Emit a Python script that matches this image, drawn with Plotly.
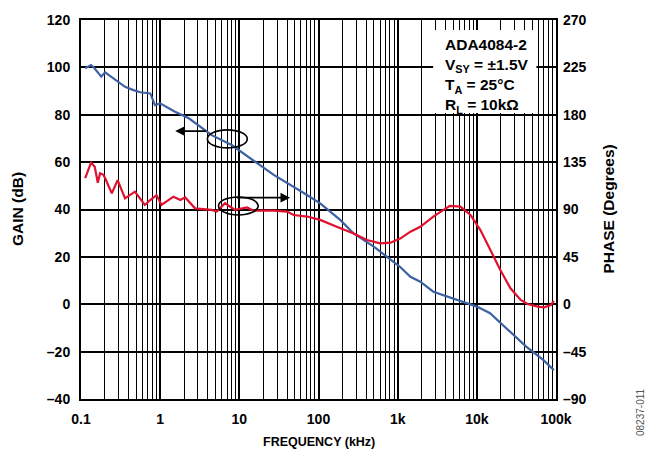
import numpy as np
import plotly.graph_objects as go

# Open-loop gain (dB) versus frequency (kHz)
gain_freq = [0.113, 0.134, 0.148, 0.18, 0.202, 0.27, 0.36, 0.46, 0.56, 0.75, 0.86, 1.0,
             1.54, 2.3, 4.47, 8.0, 13.0, 27.2, 71.6, 105, 188, 278, 499, 811, 1070, 1450,
             1930, 2820, 5100, 10000, 14700, 24000, 42000, 69000, 94000]
gain_db = [99.6, 101.0, 99.6, 96.1, 97.9, 94.7, 91.8, 90.4, 89.5, 89.0, 84.1, 84.8,
           81.3, 78.5, 71.4, 67.2, 62.3, 54.6, 46.1, 42.6, 35.6, 29.9, 24.3, 18.8, 15.8, 11.6,
           9.5, 5.3, 2.5, -1.0, -3.8, -10.2, -17.9, -23.5, -27.8]

# Phase (degrees) versus frequency (kHz)
phase_freq = [0.113, 0.134, 0.149, 0.163, 0.174, 0.192, 0.202, 0.245, 0.29, 0.36, 0.48,
              0.64, 0.75, 0.9, 1.04, 1.47, 1.8, 2.07, 2.76, 4.47, 5.2, 6.6, 8.8, 11.8, 12.5,
              15.2, 27.2, 40, 48.6, 71.6, 105, 170, 278, 410, 600, 811, 1090, 1450, 1930,
              2820, 4560, 6200, 8300, 11100, 14700, 19800, 26600, 35800, 43700, 58600,
              70800, 86400, 94000]
phase_deg = [119.7, 134.6, 130.7, 115.4, 124.4, 122.9, 119.7, 105.3, 117.9, 100.6, 106.9,
             94.3, 99.0, 103.7, 94.3, 102.2, 99.0, 101.5, 91.1, 89.6, 88.0, 95.9, 89.6, 91.1, 92.0,
             88.9, 88.9, 88.0, 84.8, 83.3, 80.1, 73.6, 67.3, 61.0, 57.8, 58.5, 62.6, 68.9, 73.6,
             83.3, 93.4, 92.7, 84.8, 70.4, 51.5, 32.6, 15.1, 4.1, 0.2, -2.3,
             -2.9, -0.7, 3.2]

x_tickvals = [0.1, 1, 10, 100, 1000, 10000, 100000]
x_ticktext = ["0.1", "1", "10", "100", "1k", "10k", "100k"]
gain_ticks = [120, 100, 80, 60, 40, 20, 0, -20, -40]
gain_labels = ["120", "100", "80", "60", "40", "20", "0", "–20", "–40"]
phase_ticks = [270, 225, 180, 135, 90, 45, 0, -45, -90]
phase_labels = ["270", "225", "180", "135", "90", "45", "0", "–45", "–90"]

FONT = "Arial, Liberation Sans, sans-serif"
BLUE = "#3d62a3"
RED = "#e0102f"


def bold(labels):
    return ["<b>%s</b>" % t for t in labels]


fig = go.Figure()
fig.add_trace(go.Scatter(x=gain_freq, y=gain_db, mode="lines",
                         line=dict(color=BLUE, width=2.2), yaxis="y"))
fig.add_trace(go.Scatter(x=phase_freq, y=phase_deg, mode="lines",
                         line=dict(color=RED, width=2.2), yaxis="y2"))

tick_font = dict(family=FONT, size=14, color="black")

fig.update_layout(
    width=651, height=450,
    margin=dict(l=81, r=95, t=20, b=51),
    paper_bgcolor="white", plot_bgcolor="white",
    showlegend=False,
    font=dict(family=FONT, color="black"),
    xaxis=dict(
        type="log", range=[-1, 5],
        tickvals=x_tickvals, ticktext=bold(x_ticktext),
        tickfont=tick_font, ticks="", ticklabelstandoff=6,
        showgrid=True, gridcolor="black", gridwidth=2,
        minor=dict(dtick="D1", showgrid=True, gridcolor="black", gridwidth=1.4, ticks=""),
        showline=True, linecolor="black", linewidth=2, mirror=True,
        zeroline=False,
    ),
    yaxis=dict(
        range=[-40, 120], tickvals=gain_ticks, ticktext=bold(gain_labels),
        tickfont=tick_font, ticks="", ticklabelstandoff=6,
        showgrid=True, gridcolor="black", gridwidth=1.6,
        showline=True, linecolor="black", linewidth=2, mirror=True,
        zeroline=False,
    ),
    yaxis2=dict(
        range=[-90, 270], tickvals=phase_ticks, ticktext=bold(phase_labels),
        tickfont=tick_font, ticks="", ticklabelstandoff=6,
        overlaying="y", side="right", showgrid=False, zeroline=False,
    ),
)

# Axis titles
fig.add_annotation(xref="paper", yref="paper", x=0.5, y=-39 / 379 - 0.01,
                   yanchor="middle", xanchor="center", showarrow=False,
                   text="<b>FREQUENCY (kHz)</b>",
                   font=dict(family=FONT, size=12.5, color="black"))
side_font = dict(family=FONT, size=15.5, color="black")
fig.add_annotation(xref="paper", yref="paper", x=-63.5 / 475, y=0.5,
                   yanchor="middle", xanchor="center", showarrow=False, textangle=-90,
                   text="<b>GAIN (dB)</b>", font=side_font)
fig.add_annotation(xref="paper", yref="paper", x=1 + 52 / 475, y=0.5,
                   yanchor="middle", xanchor="center", showarrow=False, textangle=-90,
                   text="<b>PHASE (Degrees)</b>", font=side_font)

# Ellipses marking which curve belongs to which axis
fig.add_shape(type="circle", xref="x", yref="y",
              x0=3.95, x1=12.6, y0=66.0, y1=73.6,
              line=dict(color="black", width=1.6), fillcolor="rgba(0,0,0,0)")
fig.add_shape(type="circle", xref="x", yref="y",
              x0=5.46, x1=17.3, y0=37.7, y1=45.3,
              line=dict(color="black", width=1.6), fillcolor="rgba(0,0,0,0)")
lg = np.log10
fig.add_annotation(x=lg(1.55), y=73.1, ax=lg(3.95), ay=73.1, xref="x", yref="y",
                   axref="x", ayref="y", text="", showarrow=True,
                   arrowhead=2, arrowsize=1.2, arrowwidth=1.6, arrowcolor="black")
fig.add_annotation(x=lg(43.8), y=45.0, ax=lg(8.9), ay=45.0, xref="x", yref="y",
                   axref="x", ayref="y", text="", showarrow=True,
                   arrowhead=2, arrowsize=1.2, arrowwidth=1.6, arrowcolor="black")

# Conditions box
fig.add_shape(type="rect", xref="x", yref="y",
              x0=2806, x1=56500, y0=80.7, y1=115.8,
              fillcolor="white", line=dict(width=0), layer="above")
fig.add_annotation(
    xref="x", yref="y", x=lg(3700), y=114.0, xanchor="left", yanchor="top",
    align="left", showarrow=False,
    text="<b>ADA4084-2<br>V<sub>SY</sub> = ±1.5V<br>T<sub>A</sub> = 25°C<br>R<sub>L</sub> = 10kΩ</b>",
    font=dict(family=FONT, size=15.5, color="black"),
)

# Figure number
fig.add_annotation(xref="paper", yref="paper", x=1 + 84 / 475, y=-13 / 379,
                   text="08237-011", textangle=-90, showarrow=False,
                   font=dict(family=FONT, size=10, color="#555555"),
                   xanchor="center", yanchor="middle")

fig.write_html("out.html")
